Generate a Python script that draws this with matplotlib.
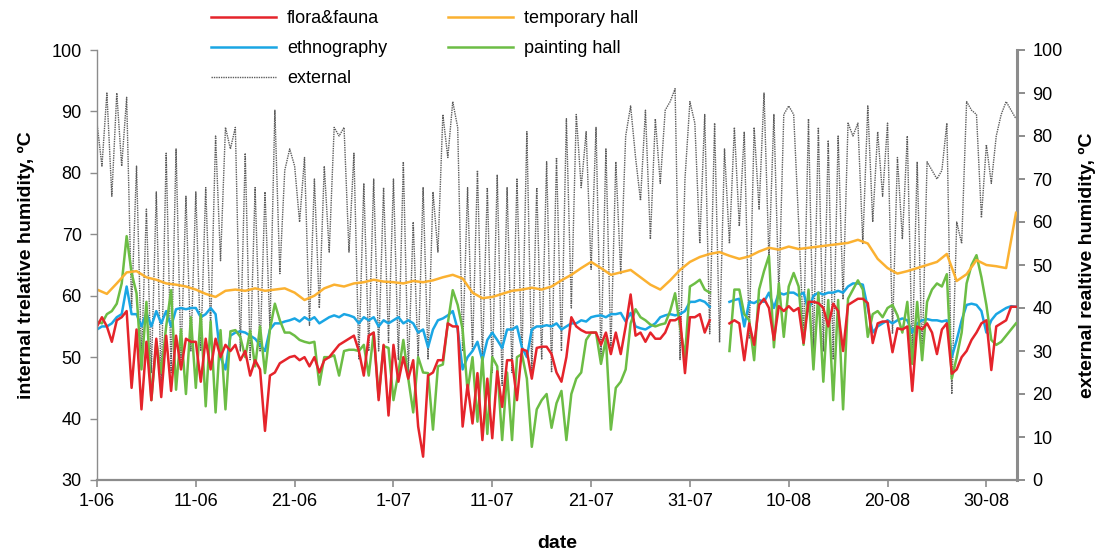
import numpy as np
import matplotlib
matplotlib.use("Agg")
import matplotlib.pyplot as plt

nan = float("nan")

# ---------------- data (half-day samples from 1 June) ----------------
external = [
    83, 73, 90, 66, 90, 73, 89, 40, 73, 28, 63, 25, 67, 22, 76, 25, 77, 28, 66, 30,
    67, 30, 68, 35, 80, 51, 82, 77, 82, 30, 76, 28, 68, 30, 67, 35, 86, 48, 72, 77,
    73, 60, 75, 36, 70, 40, 73, 53, 82, 80, 82, 53, 76, 28, 69, 30, 70, 30, 68, 32,
    70, 28, 74, 25, 60, 28, 68, 28, 67, 53, 85, 75, 88, 82, 30, 68, 30, 72, 28, 68,
    25, 71, 22, 68, 25, 70, 28, 81, 25, 68, 28, 74, 25, 75, 30, 84, 40, 85, 68, 81,
    49, 82, 28, 77, 30, 74, 48, 80, 87, 75, 65, 86, 56, 84, 69, 86, 88, 91, 28, 70,
    88, 83, 55, 85, 34, 83, 32, 77, 55, 82, 59, 81, 33, 82, 63, 90, 51, 85, 43, 85,
    87, 85, 60, 33, 84, 30, 82, 30, 79, 28, 80, 42, 83, 80, 83, 55, 87, 60, 81, 66,
    83, 34, 75, 56, 80, 29, 74, 28, 74, 72, 70, 72, 83, 20, 60, 55, 88, 86, 85, 61,
    78, 69, 80, 85, 88, 86, 84,
]

flora_fauna = [
    55, 56.5, 55, 52.5, 56, 56.5, 57.5, 45, 54.5, 41.5, 52.5, 43, 53, 43.5, 53.5, 44.5, 53.5, 48, 53, 52.5,
    52.5, 46, 53, 48, 53, 50, 52, 51, 52, 49.5, 51, 47, 49.5, 48, 38, 47, 47.5, 49, 49.5, 50,
    50.2, 49.5, 50, 48.5, 50, 47.5, 49.5, 50, 51, 52, 52.5, 53, 53.5, 51, 47, 53.5, 54, 43, 52, 40.5,
    52, 46, 50, 46.5, 49.5, 38.7, 33.8, 47, 47.5, 49.5, 49.5, 55.5, 55, 55, 38.7, 45.5, 39.2, 47.4, 36.5, 46.5,
    36.8, 47.7, 41.9, 49.5, 49.5, 43, 51.3, 51, 46.5, 51.5, 51.7, 51.7, 50.5, 47.5, 46, 50, 56.5, 55, 54.4, 54,
    54, 54, 52, 54, 50.5, 54, 50.5, 55, 60.2, 53.5, 54, 52.5, 54, 53, 53, 54, 56, 56, 56.5, 47.4,
    56.5, 56.5, 57, 54, 56, nan, nan, nan, 55.5, 56, 55.5, 49.5, 55.5, 52, 58.5, 59.5, 58, 52.8, 58.3, 57.5,
    58.3, 57.5, 58, 52.3, 59, 59, 58.8, 58, 55, 58.7, 57.5, 51, 58.5, 59, 59.5, 59.5, 58.8, 52.3, 55.5, 55.8,
    55.8, 50.8, 54.7, 54.5, 55, 44.5, 55, 54.5, 55.5, 54, 50.5, 54.5, 55.5, 47.3, 48, 50, 51, 52.8, 54, 55.5,
    56, 47.9, 55, 55.5, 56, 58.2, 58.2,
]

ethnography = [
    54.5, 55, 55, 55.5, 56.5, 57, 61.5, 57, 57, 55, 57.2, 55, 57.5, 55.5, 57.5, 55, 57.8, 58, 57.8, 58,
    58, 56.5, 57, 58, 57, 50, 48, 53.5, 54, 54.2, 54, 53.5, 53, 52, 51, 54.5, 55.5, 55.5, 55.8, 56,
    56.3, 55.8, 56.5, 56, 56.5, 55.5, 56, 56.5, 56.8, 56.5, 57, 56.8, 56.5, 55.5, 56.5, 56, 56.5, 55, 56, 55.5,
    56, 56.5, 55.5, 56, 55.5, 54, 54.5, 51.6, 54.5, 56, 56.3, 56.8, 57.5, 54.5, 48, 50, 51, 52.5, 49.5, 52.8,
    54, 52.8, 51.5, 54.5, 54.5, 55, 51.6, 50, 54.5, 55, 55, 55.2, 55, 55.5, 54.5, 55, 55.5, 55.5, 56, 55.8,
    56.5, 56.7, 56.8, 56.5, 57, 57, 57.2, 55.8, 57.2, 55, 54.7, 54.5, 55, 55.5, 56.5, 56.8, 57, 56.8, 57, 57.5,
    59, 59, 59.3, 59, 58.2, nan, nan, nan, 59, 59.3, 59.5, 55, 59, 58.8, 59.3, 59, 60.5, 58, 60.5, 60.2,
    60.5, 60.5, 60, 60.5, 57.5, 60, 60.5, 60.2, 60.5, 60.5, 60.8, 60.5, 61.5, 62, 62, 61.8, 58, 54, 55, 55.5,
    56, 55.5, 56, 56.3, 56, 54, 55.5, 56, 56.2, 56, 56, 55.8, 56, 50, 52.8, 56, 58.5, 58.7, 58.5, 57.5,
    54, 56, 57, 57.5, 58, 58.3, 58.2,
]

painting_hall = [
    55.8, 55.5, 57, 57.5, 58.7, 62, 69.7, 63.7, 60.4, 48, 59, 43, 52.5, 47.4, 55, 60.9, 44.7, 54.5, 44, 56.5,
    45, 57, 42, 55.8, 41, 54.4, 41.5, 54.2, 54.4, 53.3, 50, 54.3, 48.5, 55, 47.4, 54.5, 58.7, 56, 54, 54,
    53.5, 52.8, 52.5, 52.3, 52.5, 45.5, 50, 50, 50.3, 47, 51, 51.2, 51.2, 51, 52, 47, 54, 43.5, 51.8, 51.5,
    43, 47.5, 52.8, 46.5, 41, 50, 47.5, 47.4, 38.2, 48.5, 48.8, 55.5, 60.9, 58.5, 54.5, 44.5, 50, 39.5, 50, 37.5,
    50, 48.5, 36.5, 47.5, 36.5, 50, 50.5, 46.5, 35.4, 41.5, 43, 44, 38.5, 42.5, 44.5, 36.5, 44, 46.5, 47.5, 52.8,
    54, 54, 48.9, 53, 38.2, 45, 46, 48, 55.5, 57.8, 56.5, 56, 55.3, 55, 55.3, 55.5, 57.5, 60.4, 55, 50,
    61.5, 62, 62.6, 61, 60.5, nan, nan, nan, 51, 61, 61, 57, 56, 49.5, 61, 64, 66.5, 51.6, 62, 53.3,
    61.5, 63.7, 61.5, 52, 61, 48, 60.5, 46, 59.3, 43, 59.3, 41.5, 59.5, 61, 62.5, 61, 53.3, 57, 57.5, 56.5,
    58, 58.5, 56.8, 54, 59, 48.9, 59, 49.5, 59, 61, 62, 61.5, 63.5, 46.5, 50, 54, 62, 65, 66.6, 63,
    58.5, 52.8, 52, 52.5, 53.5, 54.5, 55.5,
]

# daily samples
temporary_hall = [
    61, 60.3, 62, 63.8, 64, 63, 62.6, 62, 61.8, 61.5,
    61, 60.3, 59.8, 60.8, 61, 60.8, 61.2, 60.8, 61, 61.2,
    60.5, 59.3, 60, 61.2, 61.8, 61.5, 62, 62.2, 62.6, 62.3,
    62.2, 62, 62.4, 62.2, 62.5, 63, 63.4, 62.8, 60.5, 59.6,
    59.8, 60.3, 60.8, 61, 61.3, 61, 61.5, 62.5, 63.4, 64.5,
    65.5, 64.5, 63.4, 63.8, 64.2, 63, 61.8, 61, 62.5, 64.2,
    65.5, 66.3, 66.8, 67.1, 66.5, 66, 66.4, 67.2, 67.8, 67.5,
    68, 67.6, 67.8, 68, 68.2, 68.4, 68.6, 69.1, 68.5, 66,
    64.5, 63.6, 64, 64.5, 65, 65.5, 66.8, 62.4, 63.5, 65.8,
    65, 64.8, 64.5, 73.5,
]

tick_days = [0, 10, 20, 30, 40, 50, 60, 70, 80, 90]
tick_labels = ["1-06", "11-06", "21-06", "1-07", "11-07", "21-07", "31-07", "10-08", "20-08", "30-08"]

# ---------------- plot ----------------
plt.rcParams["font.family"] = ["Liberation Sans", "DejaVu Sans"]

fig = plt.figure(figsize=(11.02, 5.51), dpi=100)
ax = fig.add_axes([97 / 1102, 1 - 480 / 551, (1017 - 97) / 1102, (480 - 50) / 551])
ax2 = ax.twinx()
ax.set_zorder(ax2.get_zorder() + 1)
ax.patch.set_visible(False)

t_half = np.arange(len(external)) * 0.5
t_day = np.arange(len(temporary_hall)) * 1.0

c_red = "#e5242b"
c_blue = "#1aa6e4"
c_green = "#6cbd45"
c_orange = "#fbb131"
c_gray = "#5c5c5c"

l_ext, = ax2.plot(t_half, external, color=c_gray, lw=1.0,
                  linestyle=(0, (1.0, 0.7)), label="external")
l_blue, = ax.plot(t_half, ethnography, color=c_blue, lw=1.8, label="ethnography")
l_green, = ax.plot(t_half, painting_hall, color=c_green, lw=1.8, label="painting hall")
l_red, = ax.plot(t_half, flora_fauna, color=c_red, lw=1.8, label="flora&fauna")
l_orange, = ax.plot(t_day, temporary_hall, color=c_orange, lw=1.8, label="temporary hall")

ax.set_xlim(0, 93.1)
ax.set_ylim(30, 100)
ax2.set_ylim(0, 100)
ax.set_yticks(range(30, 101, 10))
ax2.set_yticks(range(0, 101, 10))
ax.set_xticks(tick_days)
ax.set_xticklabels(tick_labels)

for a in (ax, ax2):
    a.spines["top"].set_visible(False)
ax.spines["right"].set_visible(False)
ax2.spines["left"].set_visible(False)
ax2.spines["bottom"].set_visible(False)
ax.spines["left"].set_color("#8c8c8c")
ax.spines["left"].set_linewidth(1.0)
ax.spines["bottom"].set_color("#8c8c8c")
ax.spines["bottom"].set_linewidth(1.6)
ax2.spines["right"].set_color("#8c8c8c")
ax2.spines["right"].set_linewidth(2.2)

ax.tick_params(axis="y", direction="out", length=5, width=1, color="#8c8c8c",
               labelsize=13, pad=6)
ax.tick_params(axis="x", direction="out", length=5, width=1.2, color="#8c8c8c",
               labelsize=13, pad=4)
ax2.tick_params(axis="y", direction="out", length=6, width=1.4, color="#8c8c8c",
                labelsize=13, pad=5)

ax.set_xlabel("date", fontsize=14, fontweight="bold", labelpad=18)
ax.set_ylabel("internal trelative humidity, ºC", fontsize=14, fontweight="bold", labelpad=12)
ax2.set_ylabel("external realtive humidity, ºC", fontsize=14, fontweight="bold", labelpad=12)

handles = [l_red, l_blue, l_ext, l_orange, l_green]
fig.legend(handles, [h.get_label() for h in handles], ncol=2, loc="upper left",
           bbox_to_anchor=(211 / 1102, 1 - 10 / 551), frameon=False, fontsize=13,
           handlelength=3.6, handletextpad=0.6, columnspacing=3.4, labelspacing=0.72,
           borderpad=0, borderaxespad=0)

fig.savefig("out.png", dpi=100)
